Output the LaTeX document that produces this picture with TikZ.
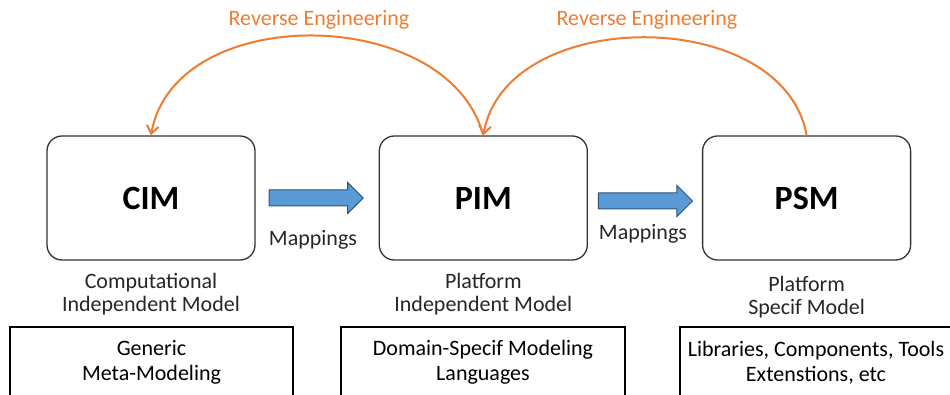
\documentclass[tikz,border=0pt]{standalone}
\usepackage{fontspec}
\setmainfont{Carlito}
\usetikzlibrary{positioning, shapes.arrows, arrows.meta}

\definecolor{reorange}{RGB}{237,125,49}
\definecolor{mapblue}{RGB}{91,155,213}
\definecolor{mapedge}{RGB}{47,82,122}

\begin{document}
\begin{tikzpicture}[
        x=1pt, y=1pt,
        model/.style={
            rectangle, draw=black!80, line width=1.3pt,
            rounded corners=15pt,
            minimum width=208pt, minimum height=124pt,
            font=\fontsize{34}{38}\selectfont\bfseries
        },
        maparrow/.style={
            single arrow, draw=mapedge, fill=mapblue, line width=1pt,
            minimum height=94pt, minimum width=30pt,
            single arrow head extend=7.5pt, inner sep=0pt, inner ysep=7.5pt
        },
        sub/.style={
            align=center, inner sep=0pt,
            font=\fontsize{22}{23}\selectfont, text=black!85
        },
        tool/.style={
            rectangle, draw=black, line width=1.1pt, align=center,
            minimum height=71pt,
            font=\fontsize{22}{25}\selectfont
        },
        reverse/.style={
            draw=reorange, line width=2pt,
            -{Straight Barb[length=8pt,width=12pt]}
        },
    ]
        \useasboundingbox (0,0) rectangle (950,394);
        \clip (0,0) rectangle (950,394);

        % Model blocks
        \node [model] (cim) at (151,196) {CIM};
        \node [model, right=123pt of cim] (pim) {PIM};
        \node [model, right=114pt of pim] (psm) {PSM};

        % Mappings
        \node [maparrow, right=13pt of cim] (map1) {};
        \node [maparrow, right=10pt of pim, yshift=-3pt] (map2) {};
        \node [sub] (map1text) at (313,154) {Mappings};
        \node [sub] (map2text) at (643,160) {Mappings};

        % Model names
        \node [sub, below=12pt of cim] (cimtext) {Computational\\Independent Model};
        \node [sub, below=12pt of pim] (pimtext) {Platform\\Independent Model};
        \node [sub, below=15pt of psm] (psmtext) {Platform\\Specif Model};

        % Tool boxes
        \node [tool, minimum width=283pt] (generic) at (151.5,31.5) {Generic\\Meta-Modeling};
        \node [tool, minimum width=284pt] (dsml) at (483,31.5) {Domain-Specif Modeling\\Languages};
        \node [tool, minimum width=272pt] (libs) at (816,31.5) {Libraries, Components, Tools\\Extenstions, etc};

        % Reverse engineering
        \draw [reverse] (pim.north) to[out=105, in=80, looseness=1.05] (cim.north);
        \draw [reverse] (psm.north) to[out=100, in=80, looseness=1.05] (pim.north);
        \node [sub, text=reorange] (re1) at (319,374) {Reverse Engineering};
        \node [sub, text=reorange] (re2) at (647,374) {Reverse Engineering};
\end{tikzpicture}
\end{document}
